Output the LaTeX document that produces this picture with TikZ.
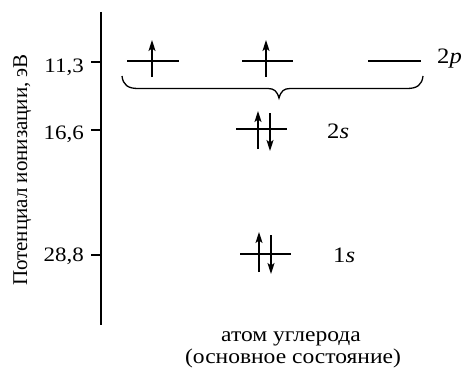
\documentclass[tikz,border=0pt]{standalone}
\usepackage{fontspec}
\setmainfont{Liberation Serif}
\newfontfamily\widefont[FakeStretch=1.12]{Liberation Serif}
\usetikzlibrary{arrows.meta}
\begin{document}
\begin{tikzpicture}[x=1pt,y=-1pt,
  lvl/.style={line width=1.6pt},
  spin/.style={line width=1.4pt,-{Stealth[length=11pt,width=7pt,inset=2.5pt]}},
  ax/.style={line width=1.6pt},
  lab/.style={font=\widefont\fontsize{20.5}{24}\selectfont, inner sep=0pt},
  orb/.style={font=\widefont\fontsize{22}{24}\selectfont, inner sep=0pt, anchor=base west},
  txt/.style={font=\widefont\fontsize{21}{19}\selectfont, inner sep=0pt, anchor=base},
  ytxt/.style={font=\fontsize{21}{22}\selectfont, inner sep=0pt}]
\useasboundingbox (0,0) rectangle (462,369);
% axis
\coordinate (atop) at (101,12);
\coordinate (abot) at (101,325);
\draw[ax] (atop) -- (abot);
% ticks
\foreach \n/\y/\b/\t in {a/62/72/{11,3}, b/130/139/{16,6}, c/255/261/{28,8}}{
  \coordinate (t\n) at (101,\y);
  \coordinate (s\n) at (91,\y);
  \draw[ax] (t\n) -- (s\n);
  \node[lab,anchor=base east] (l\n) at (84,\b) {\t};
}
\node[ytxt,rotate=90,anchor=base] (ylab) at (27,170) {Потенциал ионизации, эВ};
% 2p levels
\coordinate (p1l) at (127,61); \coordinate (p1r) at (179,61);
\coordinate (p2l) at (242,61); \coordinate (p2r) at (293,61);
\coordinate (p3l) at (368,61); \coordinate (p3r) at (421,61);
\draw[lvl] (p1l) -- (p1r);
\draw[lvl] (p2l) -- (p2r);
\draw[lvl] (p3l) -- (p3r);
\coordinate (u1b) at (152,77); \coordinate (u1t) at (152,40);
\coordinate (u2b) at (266,77); \coordinate (u2t) at (266,40);
\draw[spin] (u1b) -- (u1t);
\draw[spin] (u2b) -- (u2t);
\node[orb] (l2p) at (437,63.5) {2\textit{p}};
% brace
\coordinate (bl) at (122,76);
\coordinate (br) at (423,76);
\coordinate (bt) at (279,98);
\draw[line width=1.3pt] (bl) .. controls (123,85) and (128,88.5) .. (138,88.5)
  -- (268,88.5) .. controls (274,88.5) and (277,91) .. (bt)
  .. controls (281,91) and (284,88.5) .. (290,88.5)
  -- (407,88.5) .. controls (417,88.5) and (422,85) .. (br);
% 2s
\coordinate (s2l) at (236,129); \coordinate (s2r) at (287,129);
\draw[lvl] (s2l) -- (s2r);
\coordinate (s2ub) at (258,149); \coordinate (s2ut) at (258,111);
\coordinate (s2dt) at (270,113); \coordinate (s2db) at (270,151);
\draw[spin] (s2ub) -- (s2ut);
\draw[spin] (s2dt) -- (s2db);
\node[orb] (l2s) at (327,138) {2\textit{s}};
% 1s
\coordinate (s1l) at (240,254); \coordinate (s1r) at (291,254);
\draw[lvl] (s1l) -- (s1r);
\coordinate (s1ub) at (259,272); \coordinate (s1ut) at (259,232);
\coordinate (s1dt) at (271,235); \coordinate (s1db) at (271,274);
\draw[spin] (s1ub) -- (s1ut);
\draw[spin] (s1dt) -- (s1db);
\node[orb] (l1s) at (333,262.5) {1\textit{s}};
% caption
\node[txt] (cap1) at (291,341) {атом углерода};
\node[txt] (cap2) at (293,363) {(основное состояние)};
\end{tikzpicture}
\end{document}
